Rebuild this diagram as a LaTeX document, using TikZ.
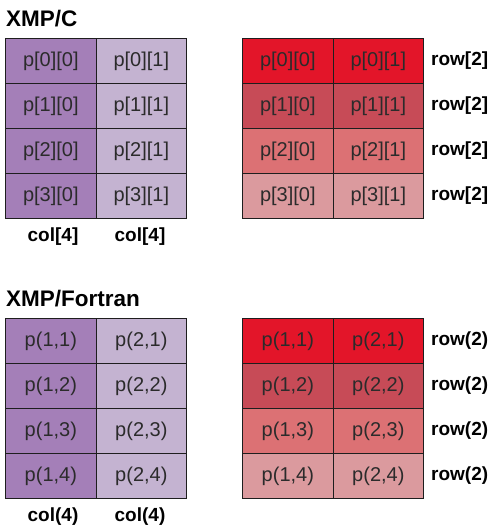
\documentclass[tikz,border=0pt]{standalone}
\usepackage{fontspec}
\setmainfont{Liberation Sans}
\definecolor{pdark}{HTML}{A47FB8}
\definecolor{plight}{HTML}{C4B3D1}
\definecolor{rA}{HTML}{E31529}
\definecolor{rB}{HTML}{C74B57}
\definecolor{rC}{HTML}{DC7174}
\definecolor{rD}{HTML}{DB9A9E}
\definecolor{txt}{HTML}{2B2B2B}
\definecolor{edge}{HTML}{1E1E1E}
\tikzset{
  cell/.style={draw=edge, line width=1.2pt, minimum width=90.5pt, minimum height=45pt,
    inner sep=0pt, anchor=north west, text=txt, font=\fontsize{20}{20}\selectfont},
  lbl/.style={font=\bfseries\fontsize{19}{19}\selectfont, text=black, inner sep=0pt},
  ttl/.style={font=\bfseries\fontsize{22.5}{22.5}\selectfont, text=black, inner sep=0pt, anchor=base west}
}
\begin{document}
\begin{tikzpicture}[x=1pt,y=-1pt]
\useasboundingbox (0,0) rectangle (500,531);
% titles
\node[ttl] (tC) at (6,26) {XMP/C};
\node[ttl] (tF) at (6,306) {XMP/Fortran};
% C grids
\foreach \r in {0,1,2,3}{
  \node[cell, fill=pdark] (cl-\r-0) at (5,38+45*\r) {p[\r][0]};
  \node[cell, fill=plight] (cl-\r-1) at (95.5,38+45*\r) {p[\r][1]};
}
\foreach \r/\c in {0/rA,1/rB,2/rC,3/rD}{
  \node[cell, fill=\c] (cr-\r-0) at (242,38+45*\r) {p[\r][0]};
  \node[cell, fill=\c] (cr-\r-1) at (332.5,38+45*\r) {p[\r][1]};
  \node[lbl, anchor=west] (rowc-\r) at (431,60.5+45*\r) {row[2]};
}
\node[lbl] (colc-0) at (53,237) {col[4]};
\node[lbl] (colc-1) at (140,237) {col[4]};
% Fortran grids
\foreach \r [evaluate=\r as \k using int(\r+1)] in {0,1,2,3}{
  \node[cell, fill=pdark] (fl-\r-0) at (5,318+45*\r) {p(1,\k)};
  \node[cell, fill=plight] (fl-\r-1) at (95.5,318+45*\r) {p(2,\k)};
}
\foreach \r/\c [evaluate=\r as \k using int(\r+1)] in {0/rA,1/rB,2/rC,3/rD}{
  \node[cell, fill=\c] (fr-\r-0) at (242,318+45*\r) {p(1,\k)};
  \node[cell, fill=\c] (fr-\r-1) at (332.5,318+45*\r) {p(2,\k)};
  \node[lbl, anchor=west] (rowf-\r) at (431,340.5+45*\r) {row(2)};
}
\node[lbl] (colf-0) at (53,517) {col(4)};
\node[lbl] (colf-1) at (140,517) {col(4)};
\end{tikzpicture}
\end{document}
